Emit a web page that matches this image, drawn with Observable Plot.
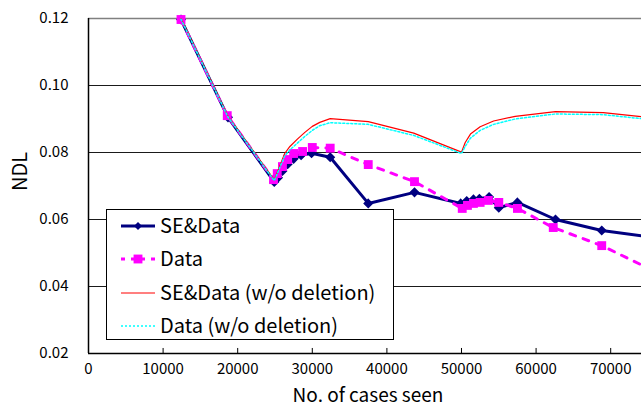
<!DOCTYPE html>
<html>
<head>
<meta charset="utf-8">
<script src="https://cdn.jsdelivr.net/npm/d3@7"></script>
<script src="https://cdn.jsdelivr.net/npm/@observablehq/plot@0.6"></script>
<style>
  html, body { margin: 0; padding: 0; background: white; }
</style>
</head>
<body>
<div id="chart"></div>
<script>
// --- data ---
const seX = [12400, 18700, 24900, 25400, 26000, 26700, 27500, 28500, 29900, 32400, 37500, 43700, 49900, 50700, 51600, 52400, 53700, 55000, 57500, 62600, 68800, 75000];
const seY = [0.1197, 0.0905, 0.0712, 0.0725, 0.0745, 0.0765, 0.0781, 0.0792, 0.0798, 0.0786, 0.0648, 0.0681, 0.0648, 0.0655, 0.0660, 0.0662, 0.0667, 0.0635, 0.0651, 0.0600, 0.0567, 0.0549];

const dataX = [12400, 18600, 24800, 25300, 26000, 26700, 27500, 28700, 30000, 32400, 37500, 43700, 50100, 50800, 51600, 52500, 53600, 55000, 57500, 62300, 68800, 75000];
const dataY = [0.1197, 0.0910, 0.0719, 0.0737, 0.0758, 0.0779, 0.0797, 0.0803, 0.0815, 0.0813, 0.0764, 0.0713, 0.0633, 0.0642, 0.0648, 0.0651, 0.0657, 0.0651, 0.0633, 0.0576, 0.0522, 0.0455];

const seNoDelX = [12400, 18700, 24900, 26300, 27000, 28000, 29000, 30000, 31000, 32400, 37500, 43600, 50000, 50500, 51200, 52500, 54300, 57200, 62600, 69000, 75000];
const seNoDelY = [0.1200, 0.0908, 0.0718, 0.0797, 0.0818, 0.0840, 0.0860, 0.0878, 0.0890, 0.0901, 0.0892, 0.0858, 0.0801, 0.0830, 0.0855, 0.0877, 0.0894, 0.0908, 0.0922, 0.0919, 0.0905];

const dataNoDelX = [12400, 18700, 24900, 26300, 27000, 28000, 29000, 30000, 31000, 32400, 37500, 43600, 50000, 50500, 51200, 52500, 54300, 57200, 62600, 69000, 75000];
const dataNoDelY = [0.1198, 0.0906, 0.0716, 0.0790, 0.0808, 0.0828, 0.0848, 0.0866, 0.0880, 0.0889, 0.0884, 0.0851, 0.0797, 0.0818, 0.0843, 0.0866, 0.0884, 0.0900, 0.0915, 0.0913, 0.0899];

const xTicks = [0, 10000, 20000, 30000, 40000, 50000, 60000, 70000];
const yTicks = [0.02, 0.04, 0.06, 0.08, 0.10, 0.12];
const seriesNames = ["SE&Data", "Data", "SE&Data (w/o deletion)", "Data (w/o deletion)"];
const xLabel = "No. of cases seen";
const yLabel = "NDL";

const toRows = (xs, ys) => xs.map((x, i) => ({x, y: ys[i]}));
const se = toRows(seX, seY);
const dat = toRows(dataX, dataY);
const seNoDel = toRows(seNoDelX, seNoDelY);
const datNoDel = toRows(dataNoDelX, dataNoDelY);

const FONT = "'Noto Sans CJK JP', 'Noto Sans', sans-serif";
const NAVY = "#000080", MAGENTA = "#FF00FF", RED = "#FF0000", CYAN = "#00FFFF";

const chart = Plot.plot({
  width: 641,
  height: 408,
  marginLeft: 88,
  marginRight: 0,
  marginTop: 18,
  marginBottom: 55,
  style: {fontFamily: FONT, fontSize: "15px", color: "black", background: "white", overflow: "visible"},
  x: {domain: [0, 74130]},
  y: {domain: [0.02, 0.12]},
  marks: [
    Plot.ruleY(yTicks.filter(d => d > 0.02 && d < 0.12), {stroke: "#1a1a1a", strokeWidth: 1}),
    Plot.ruleY([0.12], {stroke: "#808080", strokeWidth: 1.5}),
    Plot.axisY(yTicks, {tickSize: 0, tickPadding: 20, tickFormat: d3.format(".2f"), label: null, fontSize: 15}),
    Plot.axisX(xTicks, {tickSize: 0, tickPadding: 10, tickFormat: d3.format("d"), label: null, fontSize: 15}),
    Plot.ruleX(xTicks.filter(d => d > 0), {y1: 0.02, y2: 0.0215, stroke: "black", strokeWidth: 1}),
    Plot.ruleY([0.02], {stroke: "black", strokeWidth: 1.5}),
    Plot.ruleX([0], {stroke: "black", strokeWidth: 1.5}),
    // SE&Data
    Plot.line(se, {x: "x", y: "y", stroke: NAVY, strokeWidth: 3, clip: true}),
    Plot.dot(se, {x: "x", y: "y", symbol: "diamond2", r: 3.6, fill: NAVY, stroke: NAVY}),
    // Data
    Plot.line(dat, {x: "x", y: "y", stroke: MAGENTA, strokeWidth: 3, strokeDasharray: "6,8", clip: true}),
    Plot.dot(dat, {x: "x", y: "y", symbol: "square", r: 5, fill: MAGENTA, stroke: "none"}),
    // SE&Data (w/o deletion)
    Plot.line(seNoDel, {x: "x", y: "y", stroke: RED, strokeWidth: 1.2, clip: true}),
    // Data (w/o deletion)
    Plot.line(datNoDel, {x: "x", y: "y", stroke: CYAN, strokeWidth: 1.5, strokeDasharray: "2,2", clip: true}),
    // axis titles
    Plot.text([xLabel], {frameAnchor: "bottom", lineAnchor: "middle", dx: 3, dy: 42, fontSize: 19}),
    Plot.text([yLabel], {frameAnchor: "left", dx: -68, dy: 5, rotate: -90, fontSize: 20})
  ]
});

document.getElementById("chart").appendChild(chart);

// legend drawn inside the SVG
const svg = d3.select(chart);
const lg = svg.append("g").attr("font-family", FONT).attr("font-size", 20).attr("text-anchor", "start");
lg.append("rect").attr("x", 106.5).attr("y", 209.5).attr("width", 287).attr("height", 130)
  .attr("fill", "white").attr("stroke", "black").attr("stroke-width", 1);
const rowY = [226, 259, 293, 326];
const styles = [
  {stroke: NAVY, width: 3, dash: null, marker: "diamond"},
  {stroke: MAGENTA, width: 3, dash: "4,6", marker: "square"},
  {stroke: RED, width: 1.2, dash: null, marker: null},
  {stroke: CYAN, width: 1.5, dash: "2,2", marker: null}
];
seriesNames.forEach((name, i) => {
  const s = styles[i], y = rowY[i];
  const ln = lg.append("line").attr("x1", 121).attr("x2", 155).attr("y1", y).attr("y2", y)
    .attr("stroke", s.stroke).attr("stroke-width", s.width);
  if (s.dash) ln.attr("stroke-dasharray", s.dash);
  if (s.marker === "diamond") {
    lg.append("path").attr("d", d3.symbol(d3.symbolDiamond2, 3.6 * 3.6 * Math.PI)())
      .attr("transform", `translate(138,${y})`).attr("fill", NAVY);
  } else if (s.marker === "square") {
    lg.append("path").attr("d", d3.symbol(d3.symbolSquare, 5 * 5 * Math.PI)())
      .attr("transform", `translate(138,${y})`).attr("fill", MAGENTA);
  }
  lg.append("text").attr("x", 160).attr("y", y).attr("dy", "0.36em")
    .attr("fill", "black").attr("text-anchor", "start").text(name);
});
</script>
</body>
</html>
